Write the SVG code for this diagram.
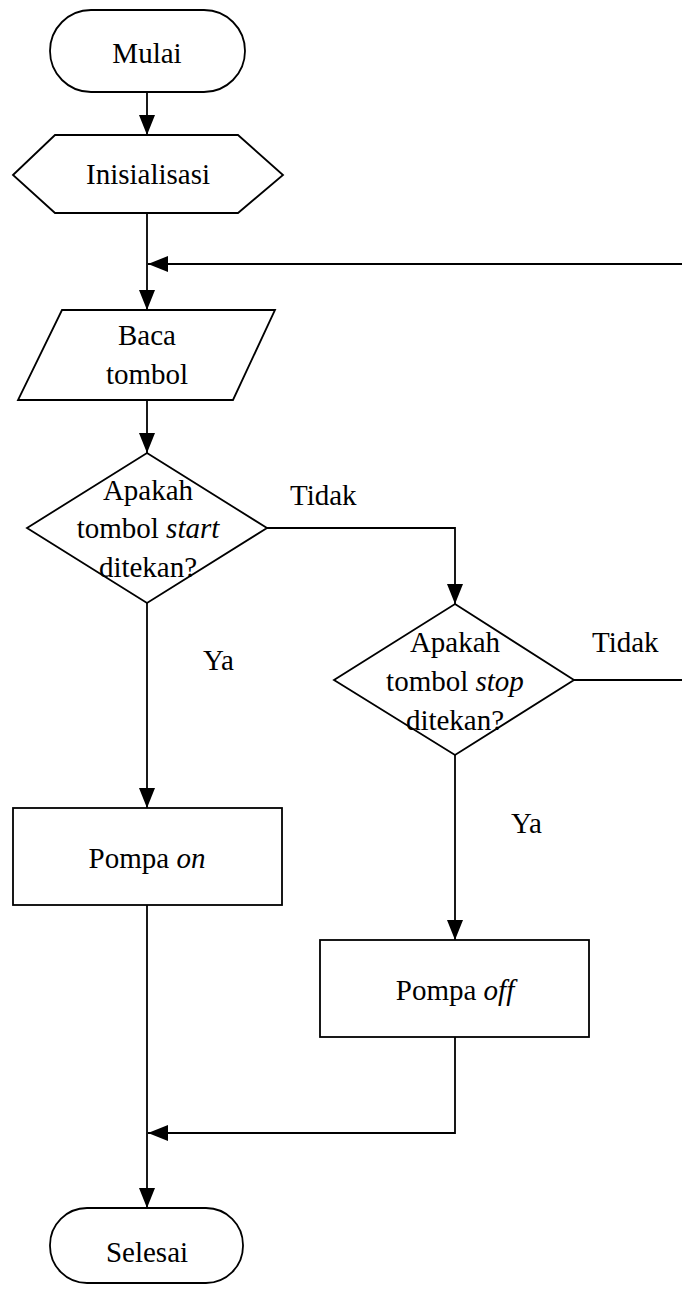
<svg xmlns="http://www.w3.org/2000/svg" width="682" height="1289" viewBox="0 0 682 1289">
<style>
.s{fill:#fff;stroke:#000;stroke-width:1.8}
.c{fill:none;stroke:#000;stroke-width:1.8}
text{font-family:"Liberation Serif","Times New Roman",serif;font-size:29px;fill:#000}
.m{text-anchor:middle}
.i{font-style:italic}
</style>
<defs>
<marker id="ah" markerWidth="20" markerHeight="16" refX="20" refY="8" orient="auto" markerUnits="userSpaceOnUse">
<path d="M0,0 L20,8 L0,16 Z" fill="#000"/>
</marker>
</defs>
<g id="connectors">
<path class="c" d="M147,92 V135" marker-end="url(#ah)"/>
<path class="c" d="M147,213 V310" marker-end="url(#ah)"/>
<path class="c" d="M682,264 H148" marker-end="url(#ah)"/>
<path class="c" d="M147,400 V453" marker-end="url(#ah)"/>
<path class="c" d="M267,528 H455 V604" marker-end="url(#ah)"/>
<path class="c" d="M573,680 H682"/>
<path class="c" d="M147,603 V808" marker-end="url(#ah)"/>
<path class="c" d="M455,755 V940" marker-end="url(#ah)"/>
<path class="c" d="M455,1037 V1133 H148" marker-end="url(#ah)"/>
<path class="c" d="M147,905 V1208" marker-end="url(#ah)"/>
<text x="290" y="505">Tidak</text>
<text x="592" y="652">Tidak</text>
<text x="203" y="670">Ya</text>
<text x="511" y="833">Ya</text>
</g>
<g id="mulai">
<rect class="s" x="50" y="10" width="195" height="82" rx="41" ry="41"/>
<text class="m" x="147" y="63">Mulai</text>
</g>
<g id="inisialisasi">
<polygon class="s" points="13,175 55,135 238,135 283,175 238,213 55,213"/>
<text class="m" x="148" y="184">Inisialisasi</text>
</g>
<g id="baca">
<polygon class="s" points="62,310 275,310 233,400 18,400"/>
<text class="m" x="147" y="345">Baca</text>
<text class="m" x="147" y="384">tombol</text>
</g>
<g id="cek-start">
<polygon class="s" points="147,453 267,528 147,603 27,528"/>
<text class="m" x="148" y="500">Apakah</text>
<text class="m" x="148" y="538">tombol <tspan class="i">start</tspan></text>
<text class="m" x="148" y="577">ditekan?</text>
</g>
<g id="cek-stop">
<polygon class="s" points="455,604 574,680 455,755 334,680"/>
<text class="m" x="455" y="652">Apakah</text>
<text class="m" x="455" y="691">tombol <tspan class="i">stop</tspan></text>
<text class="m" x="455" y="730">ditekan?</text>
</g>
<g id="pompa-on">
<rect class="s" x="13" y="808" width="269" height="97"/>
<text class="m" x="147" y="868">Pompa <tspan class="i">on</tspan></text>
</g>
<g id="pompa-off">
<rect class="s" x="320" y="940" width="269" height="97"/>
<text class="m" x="455" y="1000">Pompa <tspan class="i">off</tspan></text>
</g>
<g id="selesai">
<rect class="s" x="50" y="1208" width="193" height="75" rx="37" ry="37"/>
<text class="m" x="147" y="1262">Selesai</text>
</g>
</svg>
